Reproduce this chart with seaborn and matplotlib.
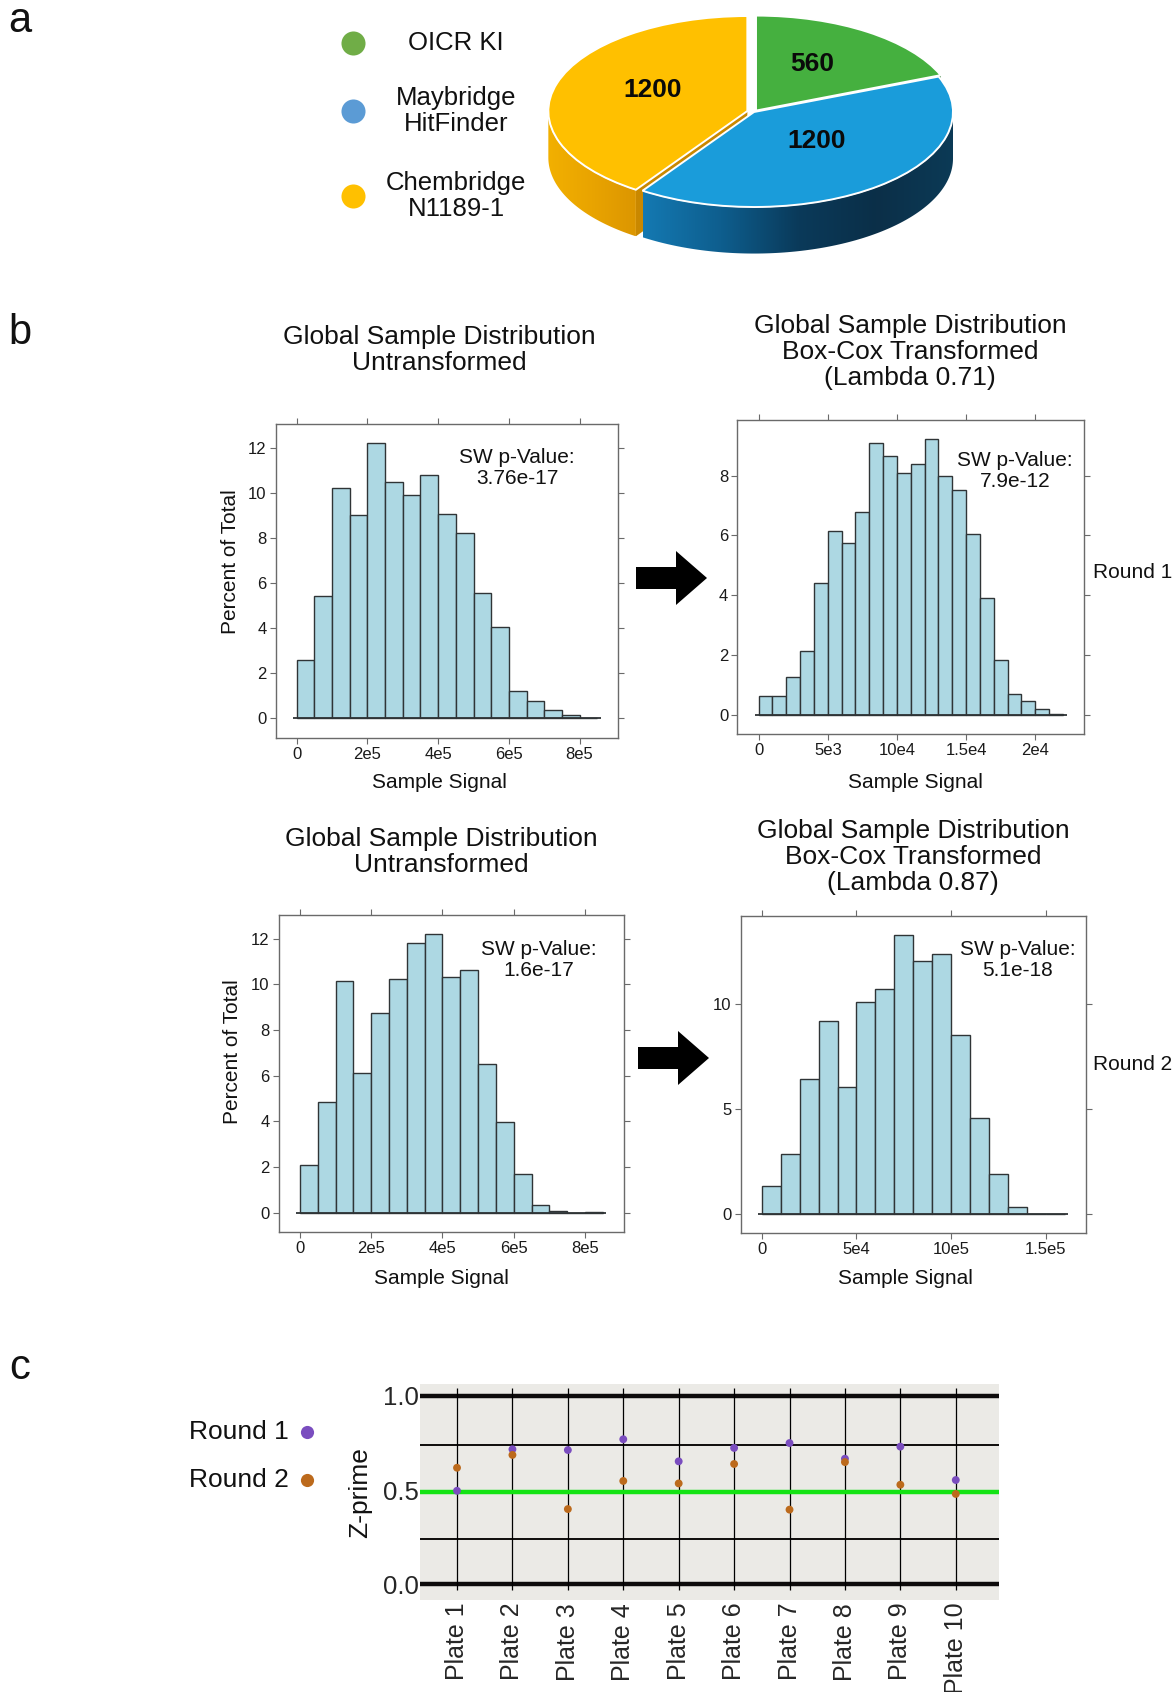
import numpy as np
import pandas as pd
import matplotlib
matplotlib.use("Agg")
import matplotlib.pyplot as plt
import seaborn as sns
from matplotlib.patches import Polygon
from matplotlib.colors import LinearSegmentedColormap

# ---------------- data ----------------
# (a) compound libraries screened
libraries = ["OICR KI", "Maybridge\nHitFinder", "Chembridge\nN1189-1"]
library_counts = [560, 1200, 1200]

# (b) global sample distributions, percent of total per bin
r1_raw_bin = 50000
r1_raw_pct = [2.58, 5.42, 10.24, 9.03, 12.21, 10.48, 9.90, 10.80, 9.05, 8.21,
              5.55, 4.06, 1.21, 0.78, 0.37, 0.15, 0.04]
r1_bc_bin = 1000
r1_bc_pct = [0.62, 0.62, 1.27, 2.13, 4.42, 6.14, 5.73, 6.79, 9.08, 8.64, 8.07,
             8.37, 9.21, 8.00, 7.53, 6.05, 3.91, 1.85, 0.69, 0.46, 0.19, 0.03]
r2_raw_bin = 50000
r2_raw_pct = [2.09, 4.83, 10.16, 6.13, 8.76, 10.25, 11.81, 12.18, 10.32, 10.64,
              6.51, 3.99, 1.72, 0.35, 0.09, 0.0, 0.04]
r2_bc_bin = 10000
r2_bc_pct = [1.34, 2.85, 6.44, 9.20, 6.06, 10.10, 10.70, 13.27, 12.06, 12.41,
             8.53, 4.58, 1.88, 0.33, 0.01, 0.01]

sw_pvalues = ["3.76e-17", "7.9e-12", "1.6e-17", "5.1e-18"]
lambdas = ["0.71", "0.87"]

raw_xticks = [0, 200000, 400000, 600000, 800000]
raw_xticklabels = ["0", "2e5", "4e5", "6e5", "8e5"]
bc1_xticks = [0, 5000, 10000, 15000, 20000]
bc1_xticklabels = ["0", "5e3", "10e4", "1.5e4", "2e4"]
bc2_xticks = [0, 50000, 100000, 150000]
bc2_xticklabels = ["0", "5e4", "10e5", "1.5e5"]

# (c) Z-prime per plate
plates = ["Plate 1", "Plate 2", "Plate 3", "Plate 4", "Plate 5",
          "Plate 6", "Plate 7", "Plate 8", "Plate 9", "Plate 10"]
round1_z = [0.496, 0.716, 0.712, 0.769, 0.652, 0.723, 0.749, 0.666, 0.730, 0.553]
round2_z = [0.618, 0.686, 0.399, 0.548, 0.535, 0.638, 0.396, 0.648, 0.528, 0.479]
z_bounds = [0.0, 1.0]
z_guides = [0.24, 0.74]
z_threshold = 0.49

# ---------------- style ----------------
sns.set_style("white")
plt.rcParams["font.family"] = ["Liberation Sans", "DejaVu Sans"]
plt.rcParams["text.color"] = "#111111"

W, H = 1176, 1692
fig = plt.figure(figsize=(W / 100, H / 100), dpi=100)


def px_axes(x0, y0, x1, y1, **kw):
    return fig.add_axes([x0 / W, 1 - y1 / H, (x1 - x0) / W, (y1 - y0) / H], **kw)


BAR = "#add8e3"
EDGE = "#2f3436"
BOX = "#6a6a6a"


def lattice_hist(ax, pct, bin_width, xticks, xticklabels, yticks):
    pct = np.asarray(pct, dtype=float)
    edges = np.arange(len(pct) + 1) * bin_width
    centers = edges[:-1] + bin_width / 2
    binned = pd.DataFrame({"signal": centers, "percent": pct})
    sns.histplot(data=binned, x="signal", weights="percent",
                 binwidth=bin_width, binrange=(float(edges[0]), float(edges[-1])),
                 stat="count", color=BAR, edgecolor=EDGE, linewidth=1.0, alpha=1, ax=ax)
    span = edges[-1] - edges[0]
    ax.plot([edges[0] - 0.012 * span, edges[-1] + 0.012 * span], [0, 0],
            color=EDGE, lw=1.3, zorder=3, solid_capstyle="butt")
    ax.set_xlim(edges[0] - 0.07 * span, edges[-1] + 0.07 * span)
    ax.set_ylim(-0.07 * pct.max(), 1.07 * pct.max())
    ax.set(xlabel="", ylabel="")
    ax.set_xticks(xticks)
    ax.set_xticklabels(xticklabels)
    ax.set_yticks(yticks)
    ax.set_yticklabels([str(t) for t in yticks])
    ax.tick_params(direction="out", length=4, width=0.8, color=BOX,
                   labelsize=12, labelcolor="#1a1a1a", pad=2.5,
                   bottom=True, left=True, top=True, right=True,
                   labeltop=False, labelright=False)
    for sp in ax.spines.values():
        sp.set_visible(True)
        sp.set_color(BOX)
        sp.set_linewidth(1.0)


# ---------------- panel b: histograms ----------------
ax_tl = px_axes(275.7, 424, 618.3, 737.7)
lattice_hist(ax_tl, r1_raw_pct, r1_raw_bin, raw_xticks, raw_xticklabels, [0, 2, 4, 6, 8, 10, 12])
ax_tr = px_axes(737.3, 420, 1084.3, 734.3)
lattice_hist(ax_tr, r1_bc_pct, r1_bc_bin, bc1_xticks, bc1_xticklabels, [0, 2, 4, 6, 8])
ax_bl = px_axes(278.7, 915, 624, 1232.3)
lattice_hist(ax_bl, r2_raw_pct, r2_raw_bin, raw_xticks, raw_xticklabels, [0, 2, 4, 6, 8, 10, 12])
ax_br = px_axes(740.7, 916, 1085.7, 1233.3)
lattice_hist(ax_br, r2_bc_pct, r2_bc_bin, bc2_xticks, bc2_xticklabels, [0, 5, 10])

# ---------------- panel a: 3-D style pie ----------------
PIE_CX, PIE_CY, PIE_RX, PIE_RY = 754, 112, 199, 95
pie_ax = px_axes(530, 0, 975, 275)
top_colors = ["#45b03f", "#1a9cda", "#ffc000"]
side_cmaps = [
    LinearSegmentedColormap.from_list("g", ["#2f8a2f", "#256f25"]),
    LinearSegmentedColormap.from_list("b", ["#1479b2", "#0e5e8e", "#0a3a5a", "#0b2f48", "#0c3a56"]),
    LinearSegmentedColormap.from_list("y", ["#f2b000", "#e9a400", "#dc9600"]),
]
radial_colors = ["#2c7a2c", "#0e5e8e", "#c98800"]
explode = [0.018, 0.0, 0.035]
depth = 0.49

counts = np.asarray(library_counts, dtype=float)
cum = np.concatenate([[0], np.cumsum(counts) / counts.sum()])
starts = 90 - 360 * cum[:-1]
ends = 90 - 360 * cum[1:]
mids = (starts + ends) / 2

for i in range(len(counts)):
    ox = explode[i] * np.cos(np.radians(mids[i]))
    oy = explode[i] * np.sin(np.radians(mids[i]))
    # cut face on the edge of exploded slices that borders the unexploded one
    if explode[i] > 0:
        a = np.radians(ends[i]) if i == 0 else np.radians(starts[i])
        rx, ry = ox + np.cos(a), oy + np.sin(a)
        face = Polygon([[ox, oy], [rx, ry], [rx, ry - depth], [ox, oy - depth]],
                       closed=True, facecolor=radial_colors[i], edgecolor="none", zorder=1)
        pie_ax.add_patch(face)
    lo = max(ends[i], -180.0)
    hi = min(starts[i], 0.0)
    if lo >= hi:
        continue
    t = np.radians(np.linspace(lo, hi, 120))
    top = np.column_stack([ox + np.cos(t), oy + np.sin(t)])
    bot = top - np.array([0, depth])
    wall = Polygon(np.vstack([top, bot[::-1]]), closed=True, fill=False, lw=0)
    pie_ax.add_patch(wall)
    xmin, xmax = top[:, 0].min(), top[:, 0].max()
    grad = np.linspace(0, 1, 256).reshape(1, -1)
    im = pie_ax.imshow(grad, extent=[xmin, xmax, bot[:, 1].min(), top[:, 1].max()],
                       cmap=side_cmaps[i], aspect="auto", origin="lower", zorder=2)
    im.set_clip_path(wall)
    pie_ax.plot(top[:, 0], top[:, 1], color="white", lw=0.8, alpha=0.6, zorder=2.5)

total = counts.sum()
wedges, _, autotexts = pie_ax.pie(
    counts, colors=top_colors, startangle=90, counterclock=False, explode=explode,
    autopct=lambda p: f"{p * total / 100:.0f}", pctdistance=0.5,
    wedgeprops=dict(edgecolor="white", linewidth=1.4),
    textprops=dict(fontsize=19, fontweight="bold", color="#0a0a0a"))
for w in wedges:
    w.set_zorder(3)
for t in autotexts:
    t.set_zorder(4)
    tx, ty = t.get_position()
    t.set_position((tx, ty + 0.08))  # labels sit a little high on the tilted face
pie_ax.set_aspect("auto")
pie_ax.set_xlim((530 - PIE_CX) / PIE_RX, (975 - PIE_CX) / PIE_RX)
pie_ax.set_ylim(-(275 - PIE_CY) / PIE_RY, PIE_CY / PIE_RY)
pie_ax.axis("off")

# ---------------- panel c: Z-prime ----------------
axc = px_axes(420, 1384, 999, 1600)
axc.set_facecolor("#ebeae6")
pos = np.arange(len(plates))
for v in z_bounds:
    axc.axhline(v, color="#0d0b0b", lw=3.2, zorder=1)
for v in z_guides:
    axc.axhline(v, color="#0d0b0b", lw=1.4, zorder=1)
axc.axhline(z_threshold, color="#14e314", lw=3.2, zorder=1.5)
axc.vlines(pos, -0.03, 1.04, color="black", lw=0.9, zorder=1.2)

zdf = pd.DataFrame({
    "pos": np.concatenate([pos, pos]),
    "z": round1_z + round2_z,
    "round": ["Round 1"] * len(plates) + ["Round 2"] * len(plates),
})
round_colors = {"Round 1": "#7a4dbf", "Round 2": "#bc6a1c"}
sns.scatterplot(data=zdf, x="pos", y="z", hue="round", palette=round_colors,
                s=32, linewidth=0, legend=False, zorder=3, ax=axc)
axc.set_xlim(-0.668, 9.78)
axc.set_ylim(-0.083, 1.062)
axc.set(xlabel="", ylabel="")
axc.set_yticks([0, 0.5, 1.0])
axc.set_yticklabels(["0.0", "0.5", "1.0"])
axc.set_xticks(pos)
axc.set_xticklabels(plates, rotation=90)
axc.tick_params(axis="y", length=0, pad=1, labelsize=18.5)
axc.tick_params(axis="x", length=0, pad=2, labelsize=18)
for sp in axc.spines.values():
    sp.set_visible(False)

# ---------------- overlay: labels, legends, arrows ----------------
ov = fig.add_axes([0, 0, 1, 1], zorder=10)
ov.set_xlim(0, W)
ov.set_ylim(H, 0)
ov.axis("off")
ov.patch.set_alpha(0)

for lab, (x, y) in zip(["a", "b", "c"], [(20, 21), (20, 333), (20, 1368)]):
    ov.text(x, y, lab, fontsize=30, ha="center", va="center")

legend_colors = ["#70ad47", "#5b9bd5", "#ffc000"]
for name, col, y in zip(libraries, legend_colors, [43, 111, 196]):
    ov.scatter([353], [y], s=300, color=col, linewidths=0)
    ov.text(456, y, name, fontsize=18.5, ha="center", va="center", linespacing=1.1)

title_raw = "Global Sample Distribution\nUntransformed"
title_bc = "Global Sample Distribution\nBox-Cox Transformed\n(Lambda {})"
tkw = dict(fontsize=19, ha="center", va="center", linespacing=1.12)
ov.text(439, 350, title_raw, **tkw)
ov.text(910, 352, title_bc.format(lambdas[0]), **tkw)
ov.text(441, 852, title_raw, **tkw)
ov.text(913, 857, title_bc.format(lambdas[1]), **tkw)

for x, y in [(439, 782), (915, 782), (441, 1278), (905, 1278)]:
    ov.text(x, y, "Sample Signal", fontsize=15, ha="center", va="center")
for x, y in [(231, 562), (233, 1052)]:
    ov.text(x, y, "Percent of Total", fontsize=15, ha="center", va="center", rotation=90)

for (x, y), p in zip([(517, 468), (1015, 471), (539, 960), (1018, 960)], sw_pvalues):
    ov.text(x, y, f"SW p-Value:\n{p}", fontsize=15, ha="center", va="center", linespacing=1.1)

ov.text(1093, 572, "Round 1", fontsize=15, ha="left", va="center")
ov.text(1093, 1065, "Round 2", fontsize=15, ha="left", va="center")


def block_arrow(x_tail, x_tip, yc, body_half, head_half, head_len):
    xn = x_tip - head_len
    pts = [[x_tail, yc - body_half], [xn, yc - body_half], [xn, yc - head_half],
           [x_tip, yc], [xn, yc + head_half], [xn, yc + body_half], [x_tail, yc + body_half]]
    ov.add_patch(Polygon(pts, closed=True, facecolor="black", edgecolor="none"))


block_arrow(636, 707, 578, 11, 27, 31)
block_arrow(638, 709, 1058, 11, 27, 31)

# Z-prime axis title and round legend
ov.text(360, 1493, "Z-prime", fontsize=19, ha="center", va="center", rotation=90)
for name, y in [("Round 1", 1432), ("Round 2", 1480)]:
    ov.text(189, y, name, fontsize=19, ha="left", va="center")
    ov.scatter([307], [y], s=90, color=round_colors[name], linewidths=0)

fig.savefig("out.png", dpi=100)
